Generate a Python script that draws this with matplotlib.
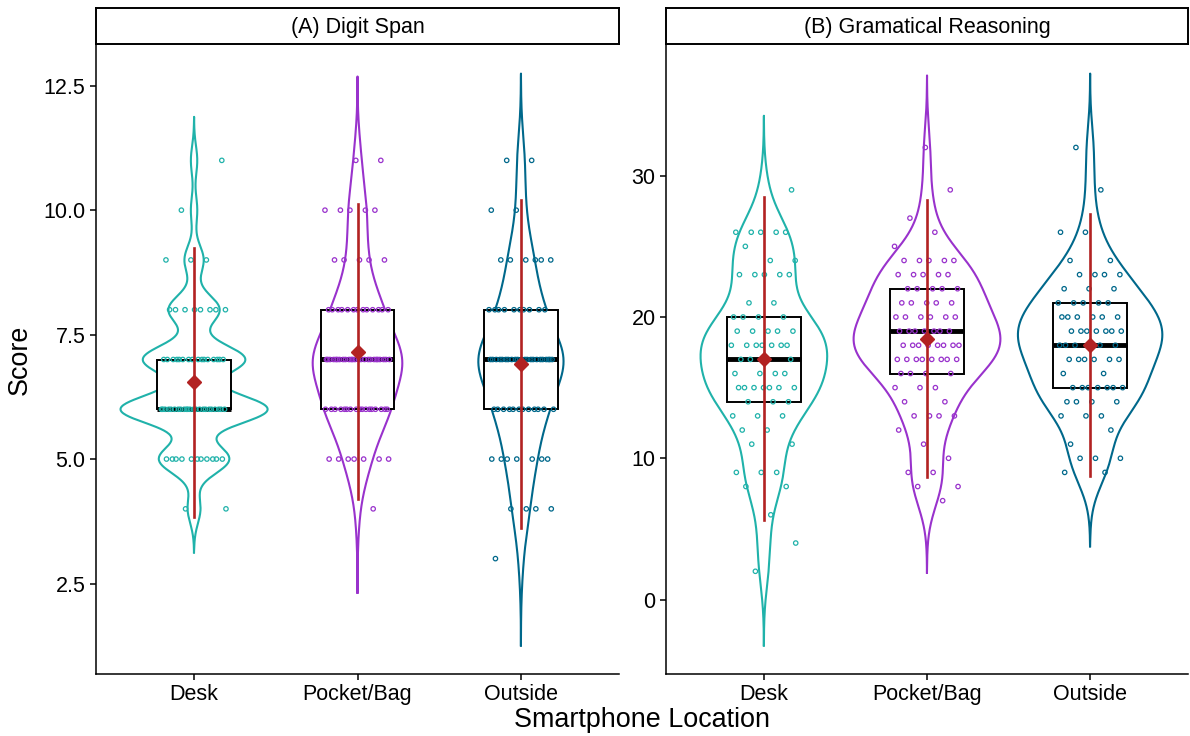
import numpy as np
import matplotlib.pyplot as plt
from matplotlib.patches import Rectangle
from matplotlib.ticker import FormatStrFormatter

plt.rcParams['font.family'] = ['Liberation Sans', 'DejaVu Sans']

groups = ["Desk", "Pocket/Bag", "Outside"]
colors = ["#20B2AA", "#9932CC", "#00688B"]

# (A) Digit Span: score levels and how many participants got each
ds_desk_scores = [4, 5, 6, 7, 8, 9, 10, 11]
ds_desk_counts = [2, 11, 23, 16, 8, 3, 1, 1]
ds_pocket_scores = [4, 5, 6, 7, 8, 9, 10, 11]
ds_pocket_counts = [1, 7, 17, 25, 13, 5, 5, 2]
ds_outside_scores = [3, 4, 5, 6, 7, 8, 9, 10, 11]
ds_outside_counts = [1, 4, 7, 12, 22, 10, 6, 2, 2]

# (B) Gramatical Reasoning
gr_desk_scores = [2, 4, 6, 8, 9, 11, 12, 13, 14, 15, 16, 17, 18, 19, 20, 21, 23, 24, 25, 26, 29]
gr_desk_counts = [1, 1, 1, 2, 3, 2, 2, 3, 3, 7, 4, 4, 7, 5, 4, 2, 5, 2, 1, 5, 1]
gr_pocket_scores = [7, 8, 9, 10, 11, 12, 13, 14, 15, 16, 17, 18, 19, 20, 21, 22, 23, 24, 25, 26, 27, 29, 32]
gr_pocket_counts = [1, 2, 2, 1, 1, 1, 4, 2, 3, 4, 8, 8, 7, 6, 5, 5, 5, 5, 1, 1, 1, 1, 1]
gr_outside_scores = [9, 10, 11, 12, 13, 14, 15, 16, 17, 18, 19, 20, 21, 22, 23, 24, 26, 29, 32]
gr_outside_counts = [2, 3, 1, 1, 3, 4, 7, 2, 6, 6, 7, 6, 5, 3, 4, 2, 2, 1, 1]

digit = [np.repeat(ds_desk_scores, ds_desk_counts),
         np.repeat(ds_pocket_scores, ds_pocket_counts),
         np.repeat(ds_outside_scores, ds_outside_counts)]
gram = [np.repeat(gr_desk_scores, gr_desk_counts),
        np.repeat(gr_pocket_scores, gr_pocket_counts),
        np.repeat(gr_outside_scores, gr_outside_counts)]


def bw_nrd0(x):
    # same rule as R's default bandwidth
    sd = np.std(x, ddof=1)
    iqr = np.subtract(*np.percentile(x, [75, 25]))
    lo = min(sd, iqr / 1.34) if iqr > 0 else sd
    return 0.9 * lo * len(x) ** -0.2


def density(x):
    bw = bw_nrd0(x)
    grid = np.linspace(x.min() - 3 * bw, x.max() + 3 * bw, 512)
    d = np.exp(-0.5 * ((grid[:, None] - x[None, :]) / bw) ** 2).sum(1)
    d = d / (len(x) * bw * np.sqrt(2 * np.pi))
    return grid, d


def draw_panel(ax, data, title, strip_ax):
    dens = [density(x) for x in data]
    dmax = max(d.max() for _, d in dens)
    for i, (x, (grid, d), col) in enumerate(zip(data, dens, colors)):
        pos = i + 1
        hw = 0.45 * d / dmax
        ax.plot(np.r_[pos - hw, (pos + hw)[::-1], pos - hw[0]],
                np.r_[grid, grid[::-1], grid[0]], color=col, lw=1.5, zorder=1)

        q1, med, q3 = np.percentile(x, [25, 50, 75])
        ax.add_patch(Rectangle((pos - 0.225, q1), 0.45, q3 - q1, facecolor='white',
                               edgecolor='black', lw=1.4, zorder=2))
        ax.plot([pos - 0.225, pos + 0.225], [med, med], color='black', lw=3.5,
                solid_capstyle='butt', zorder=2.5)

        # deterministic jitter (golden ratio sequence) within +/-0.2
        k = np.arange(len(x))
        jit = ((k * 0.618034 + 0.37 * (i + 1)) % 1 - 0.5) * 0.4
        ax.scatter(pos + jit, x, s=10, facecolors='none', edgecolors=col,
                   linewidths=0.9, zorder=3)

        m, s = x.mean(), x.std(ddof=1)
        ax.plot([pos, pos], [m - 2 * s, m + 2 * s], color='#B22222', lw=1.9, zorder=4)
        ax.plot(pos, m, marker='D', color='#B22222', ms=7, zorder=5)

    lo = min(g.min() for g, _ in dens)
    hi = max(g.max() for g, _ in dens)
    pad = 0.05 * (hi - lo)
    ax.set_ylim(lo - pad, hi + pad)
    ax.set_xlim(0.4, 3.6)
    ax.set_xticks([1, 2, 3])
    ax.set_xticklabels(groups)
    ax.spines['top'].set_visible(False)
    ax.spines['right'].set_visible(False)
    for sp in ['left', 'bottom']:
        ax.spines[sp].set_linewidth(1.1)
    ax.tick_params(labelsize=15.5, length=4, width=1.1, colors='black')

    strip_ax.set_xticks([])
    strip_ax.set_yticks([])
    for sp in strip_ax.spines.values():
        sp.set_linewidth(1.4)
    strip_ax.text(0.5, 0.47, title, ha='center', va='center', fontsize=15.5,
                  transform=strip_ax.transAxes)


fig = plt.figure(figsize=(11.9, 7.36), dpi=100)
W, H = 1190, 736
axA = fig.add_axes([96 / W, 1 - 674 / H, 523 / W, 629 / H])
axB = fig.add_axes([666 / W, 1 - 674 / H, 522 / W, 629 / H])
stA = fig.add_axes([96 / W, 1 - 44 / H, 523 / W, 36 / H])
stB = fig.add_axes([666 / W, 1 - 44 / H, 522 / W, 36 / H])

draw_panel(axA, digit, "(A) Digit Span", stA)
draw_panel(axB, gram, "(B) Gramatical Reasoning", stB)
axA.set_yticks([2.5, 5.0, 7.5, 10.0, 12.5])
axA.yaxis.set_major_formatter(FormatStrFormatter('%.1f'))
axB.set_yticks([0, 10, 20, 30])

fig.text(642 / W, 1 - 720 / H, "Smartphone Location", ha='center', va='center', fontsize=19.4)
fig.text(20 / W, 1 - 360 / H, "Score", ha='center', va='center', rotation=90, fontsize=19.4)

fig.savefig("out.png", dpi=100)
